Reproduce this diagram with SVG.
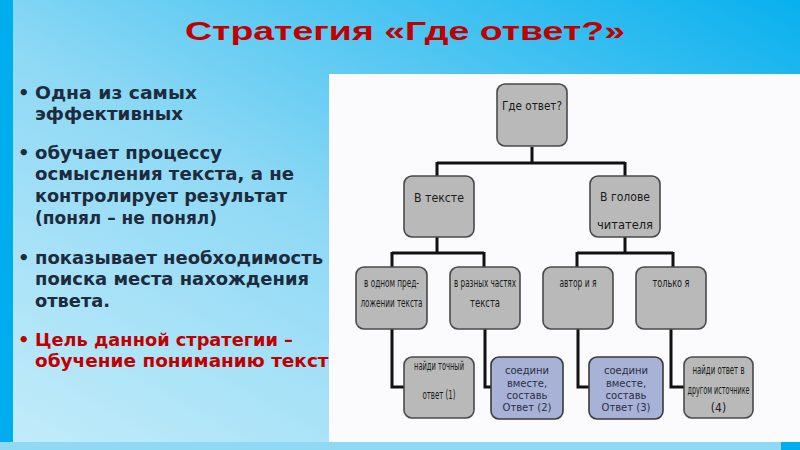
<svg xmlns="http://www.w3.org/2000/svg" width="800" height="450" viewBox="0 0 800 450">
<defs>
<linearGradient id="bg" x1="0" y1="1" x2="1" y2="0">
<stop offset="0" stop-color="#c4ecfa"/>
<stop offset="0.45" stop-color="#8fd9f5"/>
<stop offset="1" stop-color="#08b0ee"/>
</linearGradient>
<style>
.bl{font-family:"DejaVu Sans","Liberation Sans",sans-serif;font-weight:bold;font-size:18px;fill:#1d2b3c}
.red{fill:#c00000}
.box{fill:#b9b9b9;stroke:#4a4a4a;stroke-width:1.6}
.bbox{fill:#a8b1d6;stroke:#3a3a3a;stroke-width:1.6}
.bt{font-family:"DejaVu Sans Condensed","Liberation Sans",sans-serif;font-size:12px;fill:#1a1a1a;text-anchor:middle}
.bbt{font-family:"DejaVu Sans","Liberation Sans",sans-serif;font-size:10px;fill:#2a2f45;text-anchor:middle}
.ln{fill:none;stroke:#111;stroke-width:3;stroke-linejoin:miter}
</style>
</defs>
<rect width="800" height="450" fill="url(#bg)"/>
<rect x="0" y="0" width="13" height="450" fill="#00adee"/>
<text x="405" y="40" text-anchor="middle" font-family="Liberation Sans, sans-serif" font-weight="bold" font-size="26" fill="#c00000" textLength="440" lengthAdjust="spacingAndGlyphs">Стратегия «Где ответ?»</text>
<g id="bullets">
<text class="bl" x="18" y="98.5">•</text>
<text class="bl" x="35" y="98.5" textLength="162" lengthAdjust="spacingAndGlyphs">Одна  из самых</text>
<text class="bl" x="35" y="120" textLength="148" lengthAdjust="spacingAndGlyphs">эффективных</text>
<text class="bl" x="18" y="158.5">•</text>
<text class="bl" x="35" y="158.5" textLength="187" lengthAdjust="spacingAndGlyphs">обучает процессу</text>
<text class="bl" x="35" y="180" textLength="259" lengthAdjust="spacingAndGlyphs">осмысления текста, а не</text>
<text class="bl" x="35" y="202" textLength="252" lengthAdjust="spacingAndGlyphs">контролирует результат</text>
<text class="bl" x="35" y="223.5" textLength="182" lengthAdjust="spacingAndGlyphs">(понял – не понял)</text>
<text class="bl" x="18" y="263.5">•</text>
<text class="bl" x="35" y="263.5" textLength="288" lengthAdjust="spacingAndGlyphs">показывает необходимость</text>
<text class="bl" x="35" y="285" textLength="274" lengthAdjust="spacingAndGlyphs">поиска места нахождения</text>
<text class="bl" x="35" y="307" textLength="75" lengthAdjust="spacingAndGlyphs">ответа.</text>
<text class="bl red" x="18" y="346">•</text>
<text class="bl red" x="35" y="346" textLength="258" lengthAdjust="spacingAndGlyphs">Цель данной стратегии –</text>
<text class="bl red" x="35" y="367" textLength="306" lengthAdjust="spacingAndGlyphs">обучение пониманию текста</text>
</g>
<rect x="0" y="442" width="800" height="8" fill="#8fd9f4"/>
<rect x="781" y="442" width="19" height="8" fill="#00adee"/>
<rect x="329" y="74" width="471" height="368" fill="#fbfbfd"/>
<g id="connectors">
<path class="ln" d="M532 147 V163 M437 163 H625 M437 162 V176 M625 162 V176"/>
<path class="ln" d="M437 237 V253 M392 253 H484 M392 252 V267 M484 252 V267"/>
<path class="ln" d="M625 237 V253 M577 253 H673 M577 252 V267 M673 252 V267"/>
<path class="ln" d="M392 329 V387 H404"/>
<path class="ln" d="M485 329 V387 H491"/>
<path class="ln" d="M578 329 V387 H589"/>
<path class="ln" d="M671 329 V387 H684"/>
</g>
<g id="n-root"><rect class="box" x="497" y="84" width="70" height="62" rx="8"/><text class="bt" x="532" y="110" font-size="13" textLength="60" lengthAdjust="spacingAndGlyphs">Где ответ?</text></g>
<g id="n-text"><rect class="box" x="404" y="176" width="70" height="61" rx="8"/><text class="bt" x="439" y="202" font-size="13" textLength="50" lengthAdjust="spacingAndGlyphs">В тексте</text></g>
<g id="n-head"><rect class="box" x="590" y="176" width="70" height="61" rx="8"/><text class="bt" x="625" y="201" font-size="13" textLength="50" lengthAdjust="spacingAndGlyphs">В голове</text><text class="bt" x="625" y="229" font-size="13" textLength="56" lengthAdjust="spacingAndGlyphs">читателя</text></g>
<g id="n-one"><rect class="box" x="356" y="267" width="71" height="62" rx="8"/><text class="bt" x="391.5" y="287" textLength="55" lengthAdjust="spacingAndGlyphs">в одном пред-</text><text class="bt" x="391.5" y="307" textLength="62" lengthAdjust="spacingAndGlyphs">ложении текста</text></g>
<g id="n-parts"><rect class="box" x="450" y="267" width="70" height="62" rx="8"/><text class="bt" x="485" y="287" textLength="62" lengthAdjust="spacingAndGlyphs">в разных частях</text><text class="bt" x="485" y="307" textLength="30" lengthAdjust="spacingAndGlyphs">текста</text></g>
<g id="n-author"><rect class="box" x="543" y="267" width="70" height="62" rx="8"/><text class="bt" x="578" y="287" textLength="37" lengthAdjust="spacingAndGlyphs">автор и я</text></g>
<g id="n-only"><rect class="box" x="636" y="267" width="70" height="62" rx="8"/><text class="bt" x="671" y="287" textLength="37" lengthAdjust="spacingAndGlyphs">только я</text></g>
<g id="n-1"><rect class="box" x="404" y="357" width="70" height="61" rx="8"/><text class="bt" x="439" y="370" textLength="50" lengthAdjust="spacingAndGlyphs">найди точный</text><text class="bt" x="439" y="399" textLength="33" lengthAdjust="spacingAndGlyphs">ответ (1)</text></g>
<g id="n-2"><rect class="bbox" x="491" y="357" width="72" height="62" rx="8"/><text class="bbt" x="527" y="374">соедини</text><text class="bbt" x="527" y="386.5">вместе,</text><text class="bbt" x="527" y="399">составь</text><text class="bbt" x="527" y="411">Ответ (2)</text></g>
<g id="n-3"><rect class="bbox" x="589" y="357" width="74" height="62" rx="8"/><text class="bbt" x="626" y="374">соедини</text><text class="bbt" x="626" y="386.5">вместе,</text><text class="bbt" x="626" y="399">составь</text><text class="bbt" x="626" y="411">Ответ (3)</text></g>
<g id="n-4"><rect class="box" x="684" y="357" width="69" height="61" rx="8"/><text class="bt" x="718.5" y="374" textLength="52" lengthAdjust="spacingAndGlyphs">найди ответ в</text><text class="bt" x="718.5" y="394" textLength="62" lengthAdjust="spacingAndGlyphs">другом источнике</text><text class="bt" x="718.5" y="412">(4)</text></g>
</svg>
